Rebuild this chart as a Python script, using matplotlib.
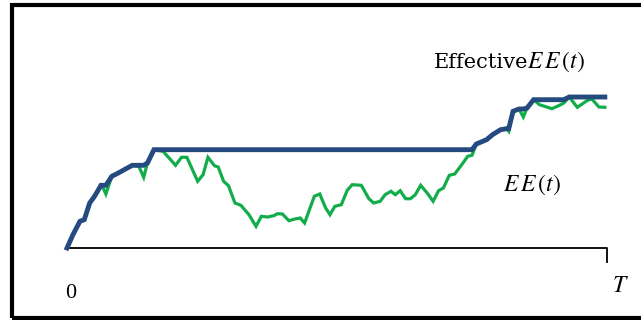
import numpy as np
import matplotlib
matplotlib.use("Agg")
import matplotlib.pyplot as plt
from matplotlib.patches import Rectangle

plt.rcParams["mathtext.fontset"] = "stix"
plt.rcParams["font.family"] = ["Liberation Serif", "DejaVu Serif"]

# Exposure path EE(t) over [0, T]
t = [0.000, 0.011, 0.024, 0.032, 0.042, 0.051, 0.063, 0.065, 0.072, 0.083,
     0.095, 0.106, 0.121, 0.133, 0.142, 0.149, 0.161, 0.178, 0.201, 0.212,
     0.222, 0.242, 0.252, 0.261, 0.273, 0.280, 0.290, 0.299, 0.311, 0.322,
     0.337, 0.350, 0.360, 0.371, 0.383, 0.390, 0.399, 0.411, 0.422, 0.432,
     0.440, 0.458, 0.468, 0.479, 0.487, 0.496, 0.508, 0.519, 0.528, 0.545,
     0.559, 0.568, 0.580, 0.589, 0.600, 0.608, 0.617, 0.627, 0.636, 0.645,
     0.655, 0.667, 0.678, 0.688, 0.697, 0.708, 0.718, 0.731, 0.742, 0.750,
     0.758, 0.777, 0.788, 0.803, 0.814, 0.818, 0.826, 0.837, 0.845, 0.852,
     0.864, 0.875, 0.898, 0.912, 0.920, 0.930, 0.945, 0.964, 0.972, 0.985,
     0.996]
ee = [0.0, 13.3, 26.7, 28.3, 45.0, 51.7, 62.7, 62.5, 54.0, 71.7,
      75.0, 78.3, 82.7, 81.7, 70.7, 85.0, 98.3, 96.7, 82.7, 90.7,
      90.7, 66.7, 73.3, 90.7, 82.3, 81.0, 66.7, 62.3, 45.0, 42.7,
      33.3, 21.7, 31.7, 31.0, 32.3, 34.3, 34.0, 27.3, 29.0, 30.0,
      25.0, 51.7, 54.0, 40.0, 33.3, 41.7, 43.3, 57.7, 63.3, 62.7,
      49.3, 45.0, 46.7, 53.3, 56.7, 53.3, 57.3, 49.3, 49.3, 53.3,
      62.7, 55.0, 46.7, 57.3, 60.0, 72.7, 74.0, 83.3, 91.7, 92.7,
      104.0, 108.3, 113.3, 118.3, 119.3, 116.7, 136.7, 139.0, 131.0, 140.0,
      148.3, 143.3, 139.3, 142.7, 145.0, 151.0, 140.7, 147.7, 149.0, 141.0,
      140.7]

t = np.array(t)
ee = np.array(ee)
# Effective EE: non-decreasing running maximum of EE
eff_ee = np.maximum.accumulate(ee)

W, H = 641, 320
fig = plt.figure(figsize=(W / 100, H / 100), dpi=100)

# outer frame (right edge runs past the canvas)
fig.patches.append(Rectangle((12 / W, 2 / H), (W + 10) / W, (H - 7) / H,
                             transform=fig.transFigure, fill=False,
                             edgecolor="black", linewidth=3.0))

ax = fig.add_axes([67 / W, (320 - 248) / H, 540 / W, 160 / H])
ax.set_xlim(0, 1)
ax.set_ylim(0, 160)
ax.axis("off")

green = "#12ad4b"
blue = "#244a7f"
ax.plot(t, ee, color=green, lw=2.3, solid_joinstyle="miter", clip_on=False, zorder=2)
ax.plot(t, eff_ee, color=blue, lw=3.5, solid_joinstyle="miter", clip_on=False, zorder=3)

# time axis with end tick at T
ax.plot([0, 1, 1], [0, 0, -14], color="black", lw=1.3, clip_on=False, zorder=1)

ee_label = r"$E\,E\,(t)$"
fig.text(71 / W, 1 - 293 / H, "0", fontsize=16, ha="center", va="center")
fig.text(620 / W, 1 - 287 / H, r"$T$", fontsize=17, ha="center", va="center")
fig.text(528 / W, 1 - 62 / H, "Effective", fontsize=15, family="DejaVu Serif",
         ha="right", va="center")
fig.text(527 / W, 1 - 62 / H, ee_label, fontsize=17, ha="left", va="center")
fig.text(503 / W, 1 - 185 / H, ee_label, fontsize=17, ha="left", va="center")

fig.savefig("out.png", dpi=100)
